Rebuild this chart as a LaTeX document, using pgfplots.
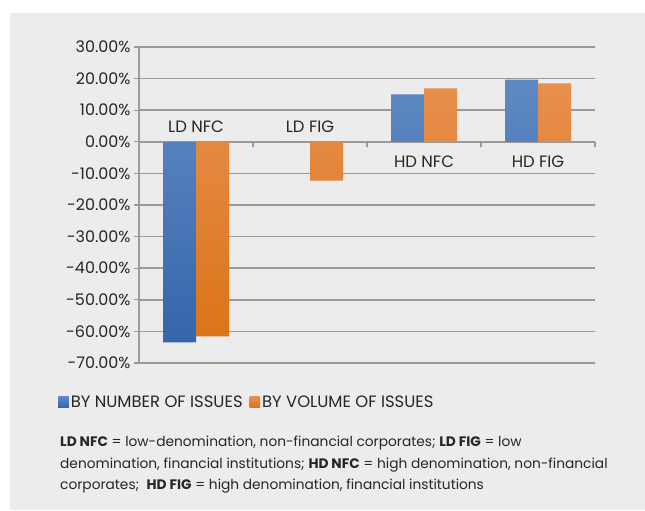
\documentclass[border=0pt]{standalone}
\usepackage{fontspec}
\setmainfont{Poppins}
\usepackage{pgfplots}
\pgfplotsset{compat=1.18}
\definecolor{bg}{HTML}{ECECEC}
\definecolor{gridc}{HTML}{9A9A9A}
\definecolor{blueTop}{HTML}{5F89C3}
\definecolor{blueBot}{HTML}{3566AB}
\definecolor{orTop}{HTML}{E78F4E}
\definecolor{orBot}{HTML}{DC7418}
\begin{document}
\begin{tikzpicture}[x=1bp,y=1bp]
\useasboundingbox (0,0) rectangle (645,511);
\fill[bg] (10,1) rectangle (645,498);
\begin{axis}[
  at={(139bp,148bp)}, anchor=south west,
  scale only axis, width=456bp, height=316bp,
  xmin=-0.5, xmax=3.5, ymin=-70, ymax=30,
  ybar=0pt, bar width=33bp,
  axis x line=none, axis y line*=left,
  y axis line style={gridc, line width=1.3bp},
  ytick={-70,-60,-50,-40,-30,-20,-10,0,10,20,30},
  yticklabels={-70.00\%,-60.00\%,-50.00\%,-40.00\%,-30.00\%,-20.00\%,-10.00\%,0.00\%,10.00\%,20.00\%,30.00\%},
  ytick style={gridc, line width=1.3bp},
  major tick length=5bp, tick align=outside,
  ymajorgrids, grid style={gridc, line width=1.5bp},
  yticklabel style={font=\fontsize{16}{18}\selectfont, text=black!85},
  legend style={draw=none, fill=none, at={(-0.184,-0.09)}, anchor=north west,
    font=\fontsize{16.5}{18}\selectfont, text=black!85,
    /tikz/every even column/.append style={column sep=5bp}},
  legend columns=2,
  legend image code/.code={\fill[#1] (0bp,-5.5bp) rectangle (10.5bp,5.5bp);},
  clip=false,
]
\addplot[top color=blueTop, bottom color=blueBot, draw=none] coordinates {(0,-63.5) (1,0) (2,15.0) (3,19.7)};
\addlegendentry{BY NUMBER OF ISSUES}
\addplot[top color=orTop, bottom color=orBot, draw=none] coordinates {(0,-61.6) (1,-12.3) (2,16.9) (3,18.5)};
\addlegendentry{BY VOLUME OF ISSUES}
\foreach \xx in {0.5,1.5,2.5,3.5} {
  \edef\tmp{\noexpand\draw[gridc, line width=1.3bp] (axis cs:\xx,0) -- ([yshift=-5bp]axis cs:\xx,0);}\tmp
}
\node[anchor=base, font=\fontsize{16.5}{18}\selectfont, text=black!85] at (axis cs:0,0) [yshift=9bp] {LD NFC};
\node[anchor=base, font=\fontsize{16.5}{18}\selectfont, text=black!85] at (axis cs:1,0) [yshift=9bp] {LD FIG};
\node[anchor=base, font=\fontsize{16.5}{18}\selectfont, text=black!85] at (axis cs:2,0) [yshift=-26bp] {HD NFC};
\node[anchor=base, font=\fontsize{16.5}{18}\selectfont, text=black!85] at (axis cs:3,0) [yshift=-26bp] {HD FIG};
\end{axis}
\begin{scope}[every node/.style={anchor=base west, inner sep=0pt, font=\fontsize{13.8}{16}\selectfont, text=black!85}]
\node at (60,64) {\textbf{LD NFC} = low-denomination, non-financial corporates; \textbf{LD FIG} = low};
\node at (60,42.5) {denomination, financial institutions; \textbf{HD NFC} = high denomination, non-financial};
\node at (60,21) {corporates;\ \ \textbf{HD FIG} = high denomination, financial institutions};
\end{scope}
\end{tikzpicture}
\end{document}
